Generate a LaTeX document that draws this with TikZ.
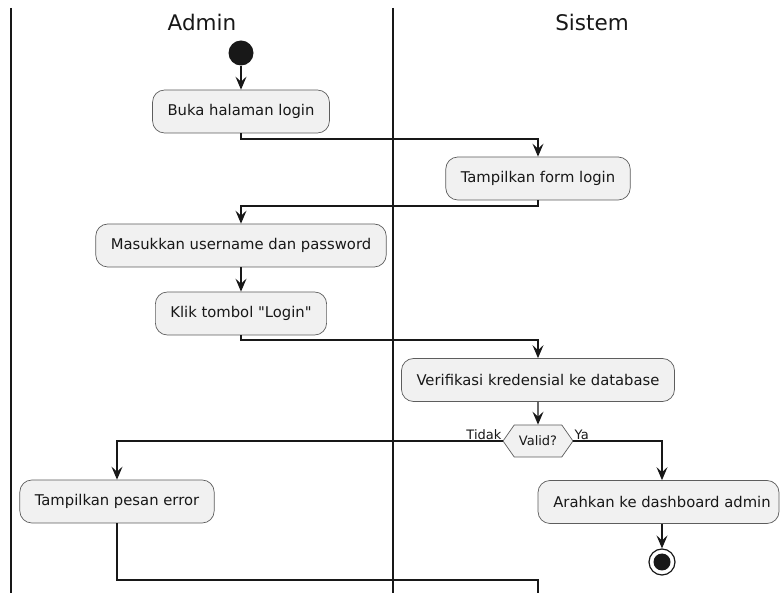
\documentclass[tikz,border=0pt]{standalone}
\usepackage{fontspec}
\setmainfont{DejaVu Sans}
\newfontfamily\rawfont{DejaVu Sans}
\usetikzlibrary{arrows.meta,shapes.symbols}
\definecolor{ink}{HTML}{181818}
\definecolor{boxfill}{HTML}{F1F1F1}
\newcommand{\dq}{{\rawfont"}}
\tikzset{
  action/.style={draw=ink!70, line width=0.7pt, fill=boxfill, rounded corners=12pt,
    minimum height=43pt, inner xsep=15pt, font=\fontsize{14.8}{17}\selectfont, text=ink},
  decision/.style={draw=ink!70, line width=0.7pt, fill=boxfill, signal, signal to=east and west,
    signal pointer angle=110, minimum height=32pt, minimum width=70pt, inner xsep=2pt,
    font=\fontsize{13}{15}\selectfont, text=ink},
  flow/.style={draw=ink, line width=1.2pt, -{Stealth[length=13pt, width=11pt, inset=5pt]}},
  plain/.style={draw=ink, line width=1.2pt},
  lane/.style={draw=ink, line width=1.6pt},
  lanetitle/.style={font=\fontsize{21.5}{25}\selectfont, text=ink},
  guard/.style={font=\fontsize{13}{15}\selectfont, text=ink, inner sep=1pt}
}
\begin{document}
\begin{tikzpicture}[x=1pt,y=-1pt]
\useasboundingbox (0,0) rectangle (780,593);
\clip (0,0) rectangle (780,593);
\fill[white] (0,0) rectangle (780,593);

% swimlane borders and titles
\coordinate (laneA) at (11,8);
\coordinate (laneAend) at (11,593);
\coordinate (laneB) at (393,8);
\coordinate (laneBend) at (393,593);
\draw[lane] (laneA) -- (laneAend);
\draw[lane] (laneB) -- (laneBend);
\node[lanetitle] (tadmin) at (202,22) {Admin};
\node[lanetitle] (tsistem) at (592,22) {Sistem};

% activities
\node[circle, fill=ink, minimum size=25pt, inner sep=0pt] (start) at (241,53) {};
\node[action] (buka) at (241,111.5) {Buka halaman login};
\node[action] (form) at (538,178.5) {Tampilkan form login};
\node[action] (masuk) at (241,245.5) {Masukkan username dan password};
\node[action] (klik) at (241,313.5) {Klik tombol \dq Login\dq};
\node[action] (verif) at (538,380) {Verifikasi kredensial ke database};
\node[decision] (valid) at (538,441) {Valid?};
\node[action] (pesan) at (117,501.5) {Tampilkan pesan error};
\node[action, minimum width=241pt, inner xsep=4pt] (arah) at (658.5,502) {\hspace*{7pt}Arahkan ke dashboard admin};
\node[circle, draw=ink, line width=1.2pt, fill=white, minimum size=26pt, inner sep=0pt] (stop) at (662,562) {};
\node[circle, fill=ink, minimum size=17pt, inner sep=0pt] at (stop) {};

% guard labels
\node[guard, anchor=south east] (tidak) at (valid.west) {Tidak};
\node[guard, anchor=south west] (ya) at (valid.east) {Ya};

% routing points
\coordinate (j1) at (241,139);
\coordinate (j2) at (538,206);
\coordinate (j3) at (241,340);
\coordinate (yaPt) at (662,441);
\coordinate (j4) at (117,580);
\coordinate (j5) at (538,580);
\coordinate (j5end) at (538,600);

% connectors
\draw[flow] (start) -- (buka);
\draw[flow] (buka.south) -- (j1) -- (j1 -| form.north) -- (form.north);
\draw[flow] (form.south) -- (j2) -- (j2 -| masuk.north) -- (masuk.north);
\draw[flow] (masuk) -- (klik);
\draw[flow] (klik.south) -- (j3) -- (j3 -| verif.north) -- (verif.north);
\draw[flow] (verif) -- (valid);
\draw[flow] (valid.west) -- (valid.west -| pesan.north) -- (pesan.north);
\draw[flow] (valid.east) -- (yaPt) -- (yaPt |- arah.north);
\draw[flow] (yaPt |- arah.south) -- (stop);
\draw[plain] (pesan.south) -- (j4) -- (j5) -- (j5end);
\end{tikzpicture}
\end{document}
